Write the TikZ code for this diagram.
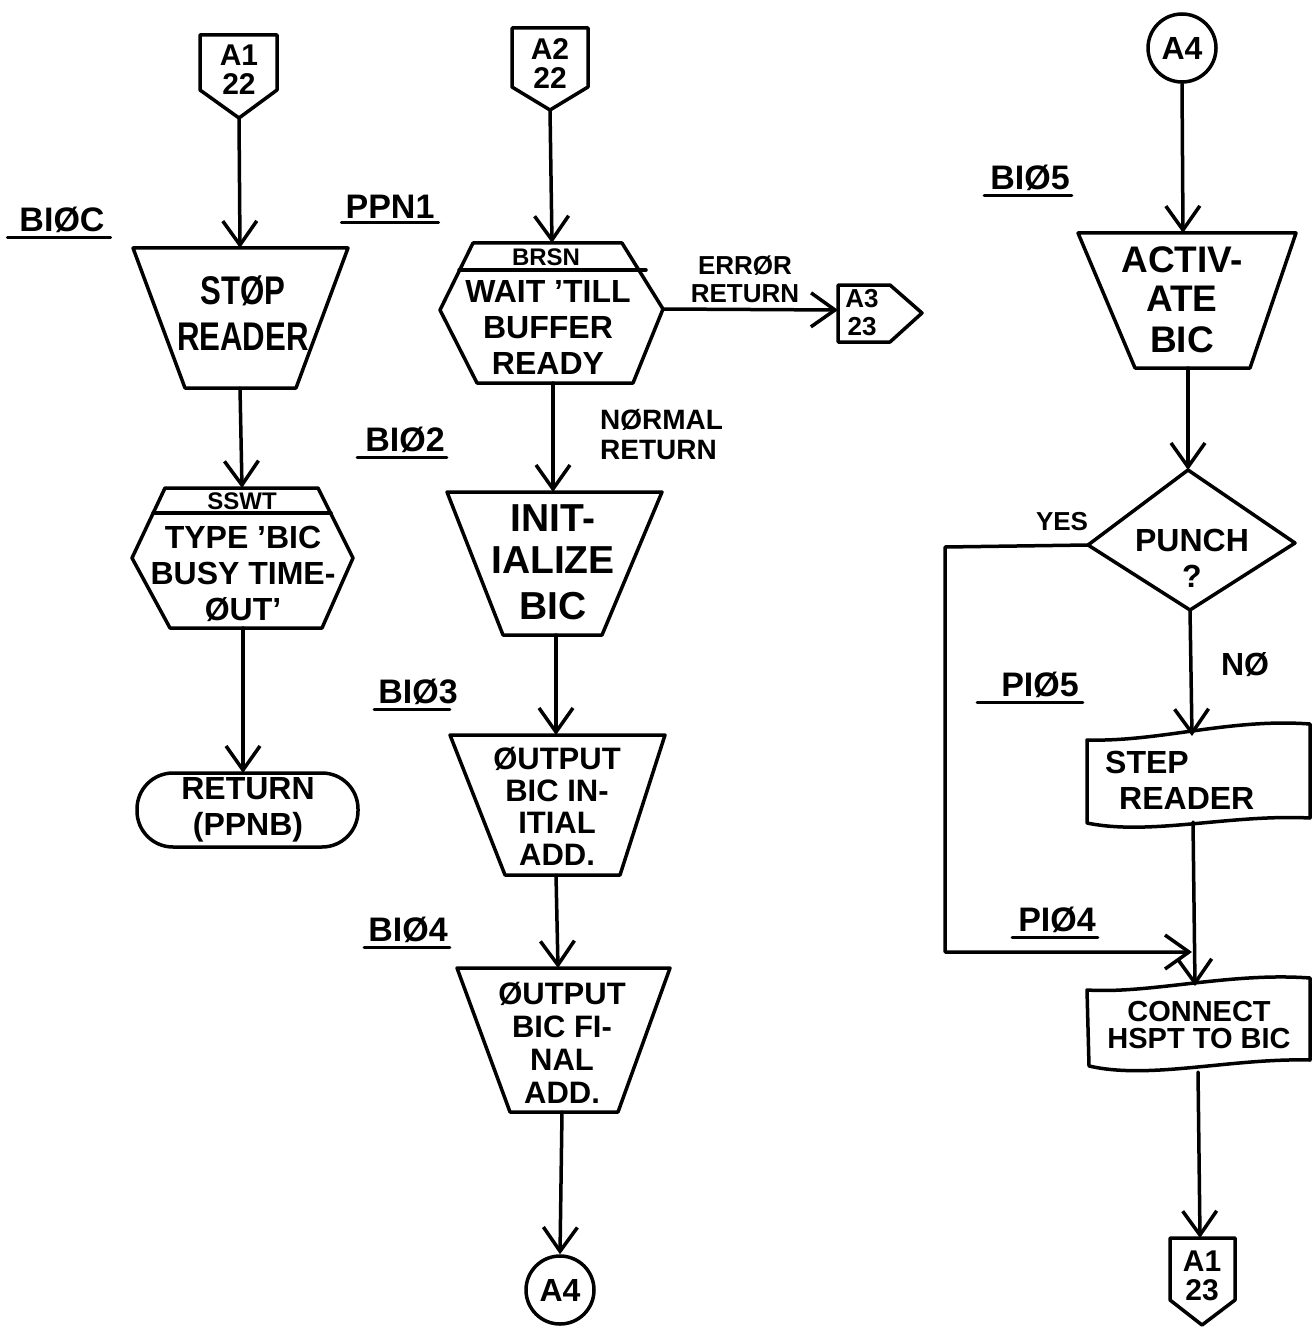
\documentclass[tikz,border=0pt]{standalone}
\usepackage{fontspec}
\setmainfont{Liberation Sans}
\newfontfamily\narrowfam[FakeStretch=0.78]{Liberation Sans}
\usetikzlibrary{arrows.meta}
\begin{document}
\begin{tikzpicture}[x=1pt,y=-1pt,
  ln/.style={line width=3.5pt,line join=round,line cap=round},
  arr/.style={ln,-{Straight Barb[length=24pt,width=34pt]}},
  ul/.style={line width=3pt,line cap=round},
  big/.style={font=\bfseries\fontsize{40}{45}\selectfont,align=center,inner sep=0pt},
  mid/.style={font=\bfseries\fontsize{32}{36}\selectfont,align=center,inner sep=0pt},
  sml/.style={font=\bfseries\fontsize{26}{28}\selectfont,align=center,inner sep=0pt},
  tag/.style={font=\bfseries\fontsize{30}{29}\selectfont,align=center,inner sep=0pt},
  lab/.style={font=\bfseries\fontsize{34}{36}\selectfont,inner sep=0pt},
  conn/.style={ln,draw,circle,minimum size=68pt,inner sep=0pt,font=\bfseries\fontsize{32}{34}\selectfont}]
\useasboundingbox (0,0) rectangle (1314,1332);
\fill[white] (0,0) rectangle (1314,1332);

% ---------- column 1 ----------
\draw[ln] (200,35) -- (277,35) -- (277,90) -- (239,118) -- (200,90) -- cycle;
\node[tag] (a1t) at (239,70) {A1\\22};
\coordinate (a1t-s) at (239,118);

\draw[ln] (133,248) -- (348,248) -- (296,388) -- (185,388) -- cycle;
\node[big,font=\bfseries\narrowfam\fontsize{40}{46}\selectfont] (stop) at (243,313) {STØP\\READER};
\coordinate (stop-n) at (240,248);
\coordinate (stop-s) at (240,388);

\draw[ln] (165,488) -- (318,488) -- (353,558) -- (322,628) -- (170,628) -- (132,558) -- cycle;
\draw[ln] (153,513) -- (331,513);
\node[sml,font=\bfseries\fontsize{24}{26}\selectfont] (sswtb) at (242,501) {SSWT};
\node[mid] (sswt) at (243,574) {TYPE 'BIC\\BUSY TIME-\\ØUT'};
\coordinate (sswt-n) at (242,488);
\coordinate (sswt-s) at (243,628);

\draw[ln,rounded corners=36pt] (137,773) rectangle (358,847);
\node[mid] (ret) at (248,810) {RETURN\\(PPNB)};
\coordinate (ret-n) at (243,773);

\draw[arr] (a1t-s) -- (stop-n);
\draw[arr] (stop-s) -- (sswt-n);
\draw[arr] (sswt-s) -- (ret-n);

\node[lab] (l1) at (62,220) {BIØC};
\draw[ul] ([xshift=-12pt,yshift=-4pt]l1.south west) -- ([xshift=6pt,yshift=-4pt]l1.south east);

% ---------- column 2 ----------
\draw[ln] (512,28) -- (588,28) -- (588,87) -- (550,110) -- (512,87) -- cycle;
\node[tag] (a2t) at (550,64) {A2\\22};
\coordinate (a2t-s) at (550,110);

\draw[ln] (473,243) -- (622,243) -- (663,309) -- (633,383) -- (477,383) -- (440,310) -- cycle;
\draw[ln] (459,270) -- (646,270);
\node[sml,font=\bfseries\fontsize{24}{26}\selectfont] (brsnb) at (546,257) {BRSN};
\node[mid] (brsn) at (548,327) {WAIT 'TILL\\BUFFER\\READY};
\coordinate (brsn-n) at (552,243);
\coordinate (brsn-e) at (663,309);
\coordinate (brsn-s) at (553,383);

\draw[ln] (838,285) -- (890,285) -- (922,313) -- (890,342) -- (838,342) -- cycle;
\node[sml] (a3) at (862,313) {A3\\23};
\coordinate (a3-w) at (838,310);

\node[sml] (err) at (745,279) {ERRØR\\RETURN};
\node[sml,font=\bfseries\fontsize{28}{30}\selectfont,anchor=west,align=left] (norm) at (600,435) {NØRMAL\\RETURN};

\draw[ln] (447,492) -- (662,492) -- (602,635) -- (503,635) -- cycle;
\node[big,font=\bfseries\fontsize{39}{42}\selectfont] (init) at (553,562) {INIT-\\IALIZE\\[4pt]BIC};
\coordinate (init-n) at (553,492);
\coordinate (init-s) at (556,635);

\draw[ln] (450,735) -- (665,735) -- (620,875) -- (505,875) -- cycle;
\node[mid,font=\bfseries\fontsize{31}{32}\selectfont] (out1) at (557,806) {ØUTPUT\\BIC IN-\\ITIAL\\ADD.};
\coordinate (out1-n) at (556,735);
\coordinate (out1-s) at (556,875);

\draw[ln] (457,968) -- (670,968) -- (618,1112) -- (510,1112) -- cycle;
\node[mid,font=\bfseries\fontsize{31}{33}\selectfont] (out2) at (562,1043) {ØUTPUT\\BIC FI-\\NAL\\ADD.};
\coordinate (out2-n) at (558,968);
\coordinate (out2-s) at (562,1112);

\node[conn] (a4b) at (560,1290) {A4};

\draw[arr] (a2t-s) -- (brsn-n);
\draw[arr] (brsn-e) -- (a3-w);
\draw[arr] (brsn-s) -- (init-n);
\draw[arr] (init-s) -- (out1-n);
\draw[arr] (out1-s) -- (out2-n);
\draw[arr] (out2-s) -- (a4b.north);

\node[lab] (l2) at (390,207) {PPN1};
\draw[ul] ([xshift=-4pt,yshift=-4pt]l2.south west) -- ([xshift=4pt,yshift=-4pt]l2.south east);
\node[lab] (l3) at (405,440) {BIØ2};
\draw[ul] ([xshift=-8pt,yshift=-4pt]l3.south west) -- ([xshift=2pt,yshift=-4pt]l3.south east);
\node[lab] (l4) at (418,692) {BIØ3};
\draw[ul] ([xshift=-4pt,yshift=-4pt]l4.south west) -- ([xshift=-8pt,yshift=-4pt]l4.south east);
\node[lab] (l5) at (408,930) {BIØ4};
\draw[ul] ([xshift=-4pt,yshift=-4pt]l5.south west) -- ([xshift=2pt,yshift=-4pt]l5.south east);

% ---------- column 3 ----------
\node[conn] (a4t) at (1182,48) {A4};

\draw[ln] (1078,233) -- (1296,233) -- (1250,368) -- (1135,368) -- cycle;
\node[big,font=\bfseries\fontsize{37}{39}\selectfont] (act) at (1182,300) {ACTIV-\\ATE\\[2pt]BIC};
\coordinate (act-n) at (1183,233);
\coordinate (act-s) at (1188,368);

\draw[ln] (1188,470) -- (1295,543) -- (1190,610) -- (1088,545) -- cycle;
\node[mid] (punch) at (1192,558) {PUNCH\\?};
\coordinate (dia-n) at (1188,470);
\coordinate (dia-s) at (1190,610);
\coordinate (dia-w) at (1088,545);

\node[sml] (yes) at (1062,522) {YES};
\node[mid] (no) at (1245,665) {NØ};

\draw[ln] (1087,740) .. controls (1160,742) and (1230,718) .. (1310,724)
  -- (1310,818) .. controls (1230,814) and (1150,836) .. (1087,823) -- cycle;
\node[mid,align=left,anchor=west] (step) at (1105,780) {STEP\\\hspace*{14pt}READER};
\coordinate (step-n) at (1192,736);
\coordinate (step-s) at (1193,822);

\draw[ln] (1087,990) .. controls (1150,994) and (1230,972) .. (1310,978)
  -- (1310,1060) .. controls (1230,1058) and (1150,1080) .. (1089,1066) -- cycle;
\node[sml,font=\bfseries\fontsize{29}{27}\selectfont] (conn) at (1199,1025) {CONNECT\\HSPT TO BIC};
\coordinate (con-n) at (1195,986);
\coordinate (con-s) at (1198,1072);

\draw[ln] (1170,1238) -- (1235,1238) -- (1235,1300) -- (1202,1325) -- (1170,1300) -- cycle;
\node[tag] (a1b) at (1202,1276) {A1\\23};
\coordinate (a1b-n) at (1200,1238);

\coordinate (yc1) at (945,547);
\coordinate (yc2) at (945,952);
\coordinate (join) at (1192,952);

\draw[arr] (a4t.south) -- (act-n);
\draw[arr] (act-s) -- (dia-n);
\draw[arr] (dia-s) -- (step-n);
\draw[arr] (step-s) -- (con-n);
\draw[arr] (dia-w) -- (yc1) -- (yc2) -- (join);
\draw[arr] (con-s) -- (a1b-n);

\node[lab] (l6) at (1030,178) {BIØ5};
\draw[ul] ([xshift=-6pt,yshift=-4pt]l6.south west) -- ([xshift=2pt,yshift=-4pt]l6.south east);
\node[lab] (l7) at (1040,685) {PIØ5};
\draw[ul] ([xshift=-24pt,yshift=-4pt]l7.south west) -- ([xshift=4pt,yshift=-4pt]l7.south east);
\node[lab] (l8) at (1057,920) {PIØ4};
\draw[ul] ([xshift=-6pt,yshift=-4pt]l8.south west) -- ([xshift=2pt,yshift=-4pt]l8.south east);
\end{tikzpicture}
\end{document}
